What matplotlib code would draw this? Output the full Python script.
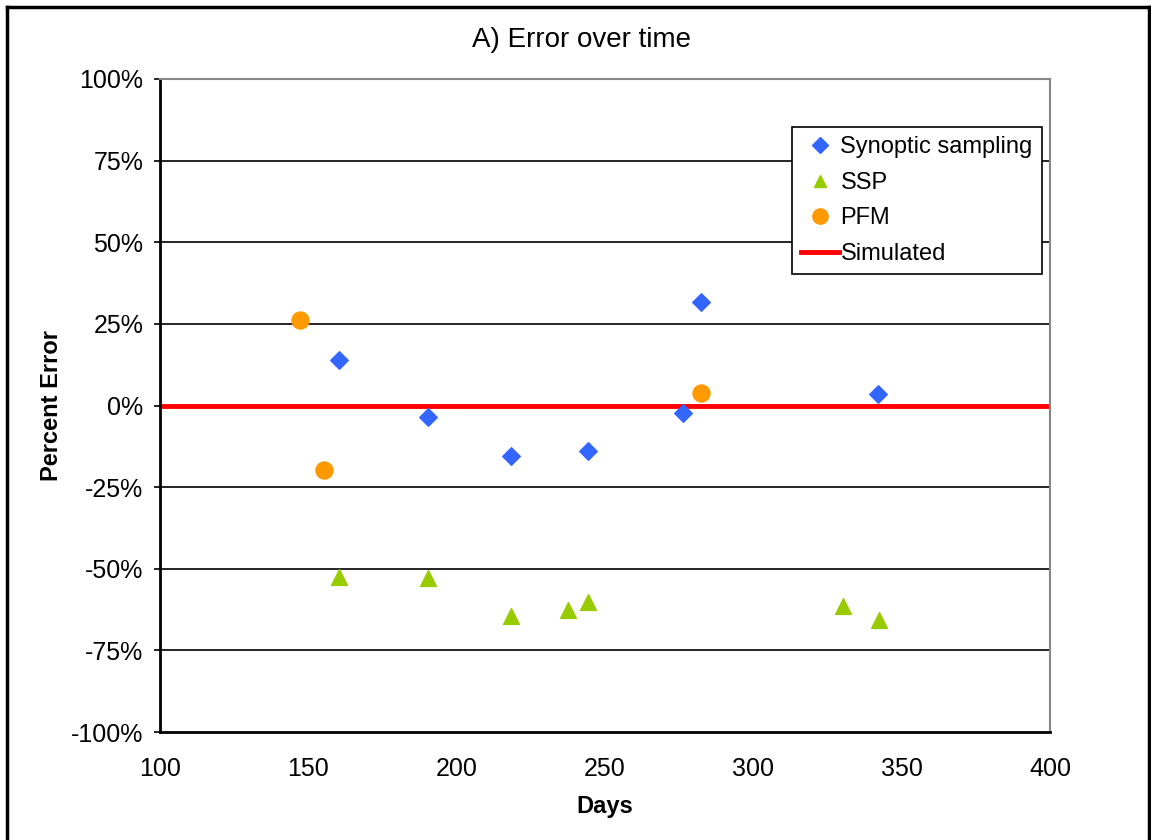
import matplotlib.pyplot as plt
from matplotlib.lines import Line2D
from matplotlib.ticker import FuncFormatter

plt.rcParams['font.family'] = ['Liberation Sans', 'DejaVu Sans']

# data
syn_days = [160.5, 190.4, 218.4, 244.3, 276.3, 282.2, 342.0]
syn_err = [13.8, -3.5, -15.6, -13.9, -2.3, 31.8, 3.4]

ssp_days = [160.5, 190.4, 218.4, 237.4, 244.3, 330.2, 342.3]
ssp_err = [-52.5, -52.7, -64.6, -62.7, -60.3, -61.3, -65.6]

pfm_days = [147.3, 155.3, 282.2]
pfm_err = [26.1, -19.9, 3.9]

sim_days = [100, 400]
sim_err = [0, 0]

yticks = [-100, -75, -50, -25, 0, 25, 50, 75, 100]
xticks = [100, 150, 200, 250, 300, 350, 400]

fig = plt.figure(figsize=(11.51, 8.4), dpi=100)
ax = fig.add_axes([160 / 1151, 1 - 732 / 840, 890 / 1151, 653 / 840])

for y in yticks[1:-1]:
    ax.axhline(y, color='black', linewidth=1.2, zorder=1)

ax.plot(sim_days, sim_err, color='#ff0000', linewidth=3.5, zorder=2, label='Simulated')
ax.scatter(syn_days, syn_err, marker='D', s=80, color='#3366ff', zorder=3, label='Synoptic sampling')
ax.scatter(ssp_days, ssp_err, marker='^', s=130, color='#99cc00', zorder=3, label='SSP')
ax.scatter(pfm_days, pfm_err, marker='o', s=150, color='#ff9900', zorder=3, label='PFM')

ax.set_xlim(100, 400)
ax.set_ylim(-100, 100)
ax.set_xticks(xticks)
ax.set_yticks(yticks)
ax.yaxis.set_major_formatter(FuncFormatter(lambda v, p: '%d%%' % v))
ax.tick_params(axis='both', labelsize=18, colors='black')
ax.tick_params(axis='x', length=0, pad=18)
ax.tick_params(axis='y', length=4, width=1.2, pad=8)

ax.spines['left'].set_linewidth(2)
ax.spines['bottom'].set_linewidth(2)
ax.spines['top'].set_color('#888888')
ax.spines['right'].set_color('#888888')
ax.spines['top'].set_linewidth(1.5)
ax.spines['right'].set_linewidth(1.5)

ax.set_xlabel('Days', fontsize=17, fontweight='bold', labelpad=10)
ax.set_ylabel('Percent Error', fontsize=17, fontweight='bold', labelpad=6)
fig.text(582 / 1151, 1 - 40 / 840, 'A) Error over time', fontsize=20, ha='center', va='center')

handles = [
    Line2D([], [], marker='D', color='#3366ff', linestyle='none', markersize=8),
    Line2D([], [], marker='^', color='#99cc00', linestyle='none', markersize=9),
    Line2D([], [], marker='o', color='#ff9900', linestyle='none', markersize=11),
    Line2D([], [], color='#ff0000', linewidth=3.5),
]
labels = ['Synoptic sampling', 'SSP', 'PFM', 'Simulated']
leg = ax.legend(handles, labels, loc='upper left', bbox_to_anchor=(632 / 890, 1 - 48 / 653),
                fontsize=17, frameon=True, fancybox=False, framealpha=1, handlelength=1.6,
                handletextpad=0.05, borderpad=0.4, labelspacing=0.57, borderaxespad=0)
leg.get_frame().set_edgecolor('black')
leg.get_frame().set_linewidth(1.2)

# outer frame of the chart
fig.add_artist(Line2D([7 / 1151, 7 / 1151], [0, 1 - 7 / 840], color='black', linewidth=2.5))
fig.add_artist(Line2D([7 / 1151, 1], [1 - 7 / 840, 1 - 7 / 840], color='black', linewidth=2.5))
fig.add_artist(Line2D([1149 / 1151, 1149 / 1151], [0, 1 - 7 / 840], color='black', linewidth=2.5))

fig.savefig('out.png', dpi=100)
